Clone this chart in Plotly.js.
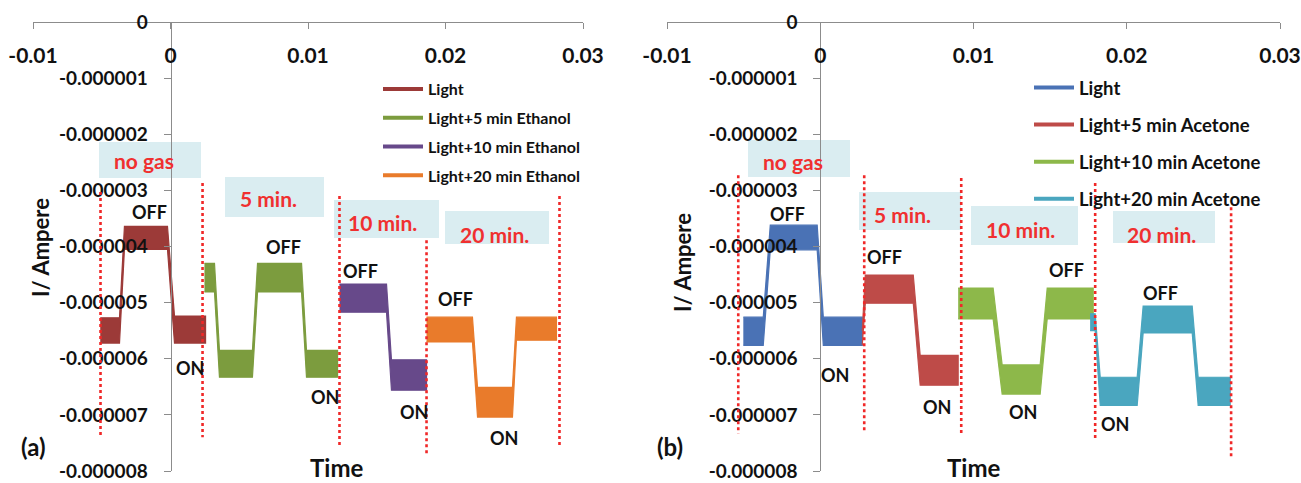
<!DOCTYPE html>
<html>
<head>
<meta charset="utf-8">
<script src="https://cdn.plot.ly/plotly-3.0.1.min.js"></script>
<style>html,body{margin:0;padding:0;background:#fff;}#chart{width:1301px;height:483px;}</style>
</head>
<body>
<div id="chart"></div>
<script>
// ---------- DATA (current values in units of 1e-6 A, time in s) ----------
const U = 1e-6;
const xTickVals = [-0.01, 0, 0.01, 0.02, 0.03];
const xTickText = ['-0.01', '0', '0.01', '0.02', '0.03'];
const yTickVals = [0, -1, -2, -3, -4, -5, -6, -7, -8];
const yTickText = ['0', '-0.000001', '-0.000002', '-0.000003', '-0.000004', '-0.000005', '-0.000006', '-0.000007', '-0.000008'];

// Panel (a) – Ethanol: time points, upper and lower edge of the noisy band
const namesA = ['Light', 'Light+5 min Ethanol', 'Light+10 min Ethanol', 'Light+20 min Ethanol'];
const tA_light = [-0.00511, -0.00371, -0.00335, -0.00022, 0.00029, 0.00255];
const upA_light = [-5.27, -5.27, -3.64, -3.64, -5.24, -5.24];
const loA_light = [-5.72, -5.72, -4.05, -4.05, -5.72, -5.72];
const tA_5 = [0.00247, 0.00320, 0.00356, 0.00596, 0.00633, 0.00953, 0.00989, 0.01215];
const upA_5 = [-4.30, -4.30, -5.85, -5.85, -4.30, -4.30, -5.85, -5.85];
const loA_5 = [-4.81, -4.81, -6.33, -6.33, -4.81, -4.81, -6.33, -6.33];
const tA_10 = [0.01229, 0.01571, 0.01607, 0.01862];
const upA_10 = [-4.67, -4.67, -6.02, -6.02];
const loA_10 = [-5.17, -5.17, -6.56, -6.56];
const tA_20 = [0.01862, 0.02196, 0.02233, 0.02487, 0.02516, 0.02807];
const upA_20 = [-5.26, -5.26, -6.51, -6.51, -5.26, -5.26];
const loA_20 = [-5.70, -5.70, -7.04, -7.04, -5.67, -5.67];

// Panel (b) – Acetone
const namesB = ['Light', 'Light+5 min Acetone', 'Light+10 min Acetone', 'Light+20 min Acetone'];
const tB_light = [-0.00502, -0.00372, -0.00326, -0.00020, 0.00020, 0.00274];
const upB_light = [-5.26, -5.26, -3.62, -3.62, -5.26, -5.26];
const loB_light = [-5.76, -5.76, -4.06, -4.06, -5.76, -5.76];
const tB_5 = [0.00274, 0.00294, 0.00607, 0.00652, 0.00900];
const upB_5 = [-5.50, -4.51, -4.51, -5.94, -5.94];
const loB_5 = [-5.76, -5.01, -5.01, -6.47, -6.47];
const tB_10 = [0.00900, 0.01128, 0.01187, 0.01435, 0.01481, 0.01781];
const upB_10 = [-4.74, -4.74, -6.11, -6.11, -4.74, -4.74];
const loB_10 = [-5.29, -5.29, -6.63, -6.63, -5.29, -5.29];
const tB_20 = [0.01761, 0.01794, 0.01827, 0.02068, 0.02107, 0.02427, 0.02466, 0.02675];
const upB_20 = [-5.20, -5.20, -6.33, -6.33, -5.06, -5.06, -6.33, -6.33];
const loB_20 = [-5.50, -5.50, -6.83, -6.83, -5.54, -5.54, -6.83, -6.83];

// Red dotted phase markers (time, top, bottom)
const markA_t = [-0.00509, 0.00233, 0.01229, 0.01862, 0.02829];
const markA_top = [-3.03, -2.87, -3.10, -3.89, -3.10];
const markA_bot = [-7.36, -7.40, -7.59, -7.72, -7.59];
const markB_t = [-0.00535, 0.00287, 0.00920, 0.01794, 0.02681];
const markB_top = [-2.73, -2.73, -2.78, -2.87, -3.30];
const markB_bot = [-7.33, -7.31, -7.36, -7.43, -7.77];

const phaseLabels = ['no gas', '5 min.', '10 min.', '20 min.'];
const stateLabels = ['OFF', 'ON', 'OFF', 'ON', 'OFF', 'ON', 'OFF', 'ON'];

// ---------- STYLE ----------
const colorsA = ['#9C3A38', '#7C9C3E', '#67498A', '#E97B2B'];
const colorsB = ['#4A72B5', '#BE4B48', '#8DB84A', '#4AA6BF'];
const FONT = 'Lato, "Open Sans", sans-serif';
const W = 1301, H = 483;
const PX = x => x / W, PY = y => 1 - y / H;

// layout geometry (pixels)
const plotTop = 22, plotBot = 471;
const domA = [33, 583], domB = [667, 1280];
const xRange = [-0.01, 0.03];
function yPos(dom) { return PX(dom[0] + (0 - xRange[0]) / (xRange[1] - xRange[0]) * (dom[1] - dom[0])); }

const traces = [];
function band(t, up, lo, color, xa, ya) {
  const x = t.concat(t.slice().reverse());
  const y = up.concat(lo.slice().reverse()).map(v => v * U);
  traces.push({x: x, y: y, xaxis: xa, yaxis: ya, mode: 'lines', fill: 'toself',
    fillcolor: color, line: {color: color, width: 1.2}, showlegend: false, hoverinfo: 'skip'});
}
function legendEntry(name, color, xa, ya, lg, i) {
  traces.push({x: [null], y: [null], xaxis: xa, yaxis: ya, mode: 'lines', name: name,
    line: {color: color, width: 4}, legend: lg, legendgroup: lg + i, showlegend: true});
}
band(tA_light, upA_light, loA_light, colorsA[0], 'x', 'y');
band(tA_5, upA_5, loA_5, colorsA[1], 'x', 'y');
band(tA_10, upA_10, loA_10, colorsA[2], 'x', 'y');
band(tA_20, upA_20, loA_20, colorsA[3], 'x', 'y');
band(tB_light, upB_light, loB_light, colorsB[0], 'x2', 'y2');
band(tB_5, upB_5, loB_5, colorsB[1], 'x2', 'y2');
band(tB_10, upB_10, loB_10, colorsB[2], 'x2', 'y2');
band(tB_20, upB_20, loB_20, colorsB[3], 'x2', 'y2');
namesA.forEach((n, i) => legendEntry(n, colorsA[i], 'x', 'y', 'legend', i));
namesB.forEach((n, i) => legendEntry(n, colorsB[i], 'x2', 'y2', 'legend2', i));

const shapes = [];
// light-blue label boxes (pixels)
const boxesA = [[99, 142, 201, 178], [225, 177, 324, 217], [334, 200, 439, 238], [445, 211, 549, 244]];
const boxesB = [[748, 140, 850, 177], [859, 192, 961, 230], [971, 206, 1078, 245], [1113, 211, 1215, 243]];
boxesA.concat(boxesB).forEach(b => shapes.push({type: 'rect', xref: 'paper', yref: 'paper',
  x0: PX(b[0]), x1: PX(b[2]), y0: PY(b[3]), y1: PY(b[1]), fillcolor: '#DAEDF1', line: {width: 0}, layer: 'below'}));
markA_t.forEach((t, i) => shapes.push({type: 'line', xref: 'x', yref: 'y', x0: t, x1: t,
  y0: markA_top[i] * U, y1: markA_bot[i] * U, line: {color: '#F02828', width: 2.6, dash: 'dot'}, layer: 'above'}));
markB_t.forEach((t, i) => shapes.push({type: 'line', xref: 'x2', yref: 'y2', x0: t, x1: t,
  y0: markB_top[i] * U, y1: markB_bot[i] * U, line: {color: '#F02828', width: 2.6, dash: 'dot'}, layer: 'above'}));

const ann = [];
function txt(s, x, y, size, color, angle) {
  ann.push({text: s, xref: 'paper', yref: 'paper', x: PX(x), y: PY(y), xanchor: 'center', yanchor: 'middle',
    showarrow: false, textangle: angle || 0, font: {family: FONT, size: size, color: color, weight: 700}});
}
const phasePosA = [[144, 161], [268, 199], [383, 222], [494, 234]];
const phasePosB = [[793, 162], [902, 214], [1020, 229], [1161, 234]];
phaseLabels.forEach((s, i) => { txt(s, phasePosA[i][0], phasePosA[i][1], 21, '#F03030'); txt(s, phasePosB[i][0], phasePosB[i][1], 21, '#F03030'); });
const statePosA = [[149, 212], [190, 368], [283, 247], [325, 397], [360, 271], [414, 412], [455, 299], [504, 438]];
const statePosB = [[787, 214], [835, 375], [885, 257], [937, 407], [1066, 270], [1023, 412], [1160, 293], [1115, 424]];
stateLabels.forEach((s, i) => { txt(s, statePosA[i][0], statePosA[i][1], 18, '#111'); txt(s, statePosB[i][0], statePosB[i][1], 18, '#111'); });
txt('Time', 336, 467, 24, '#111');
txt('Time', 973, 467, 24, '#111');
txt('I/ Ampere', 40, 248, 22, '#111', -90);
txt('I/ Ampere', 682, 263, 22, '#111', -90);
txt('(a)', 33, 446, 24, '#111');
txt('(b)', 670, 446, 24, '#111');

function xAxis(dom) {
  return {domain: [PX(dom[0]), PX(dom[1])], anchor: 'free', position: PY(plotTop), side: 'bottom', range: xRange,
    tickvals: xTickVals, ticktext: xTickText, ticks: 'outside', ticklen: 6, tickcolor: '#8C8C8C',
    ticklabelstandoff: 9,
    showline: true, linecolor: '#8C8C8C', linewidth: 1, showgrid: false, zeroline: false,
    tickfont: {family: FONT, size: 21, color: '#111', weight: 700}, fixedrange: true};
}
function yAxis(dom) {
  return {domain: [1 - plotBot / H, 1 - plotTop / H], anchor: 'free', position: yPos(dom), range: [-8e-6, 0],
    tickvals: yTickVals.map(v => v * U), ticktext: yTickText, ticks: 'outside', ticklen: 7, tickcolor: '#8C8C8C',
    ticklabelstandoff: 12, showline: true, linecolor: '#8C8C8C', linewidth: 1, showgrid: false, zeroline: false,
    tickfont: {family: FONT, size: 19, color: '#111', weight: 700}, fixedrange: true};
}

const layout = {
  width: W, height: H, margin: {l: 0, r: 0, t: 0, b: 0}, paper_bgcolor: '#fff', plot_bgcolor: 'rgba(0,0,0,0)',
  xaxis: xAxis(domA), yaxis: yAxis(domA),
  xaxis2: xAxis(domB), yaxis2: yAxis(domB),
  legend: {x: PX(378), y: PY(72), xanchor: 'left', yanchor: 'top', traceorder: 'grouped', tracegroupgap: 5,
    bgcolor: 'rgba(0,0,0,0)', itemwidth: 40, font: {family: FONT, size: 16, color: '#111', weight: 700}},
  legend2: {x: PX(1029), y: PY(69), xanchor: 'left', yanchor: 'top', traceorder: 'grouped', tracegroupgap: 10,
    bgcolor: 'rgba(0,0,0,0)', itemwidth: 40, font: {family: FONT, size: 18.5, color: '#111', weight: 700}},
  shapes: shapes, annotations: ann, showlegend: true
};
Plotly.newPlot('chart', traces, layout, {displayModeBar: false, staticPlot: true});
</script>
</body>
</html>
